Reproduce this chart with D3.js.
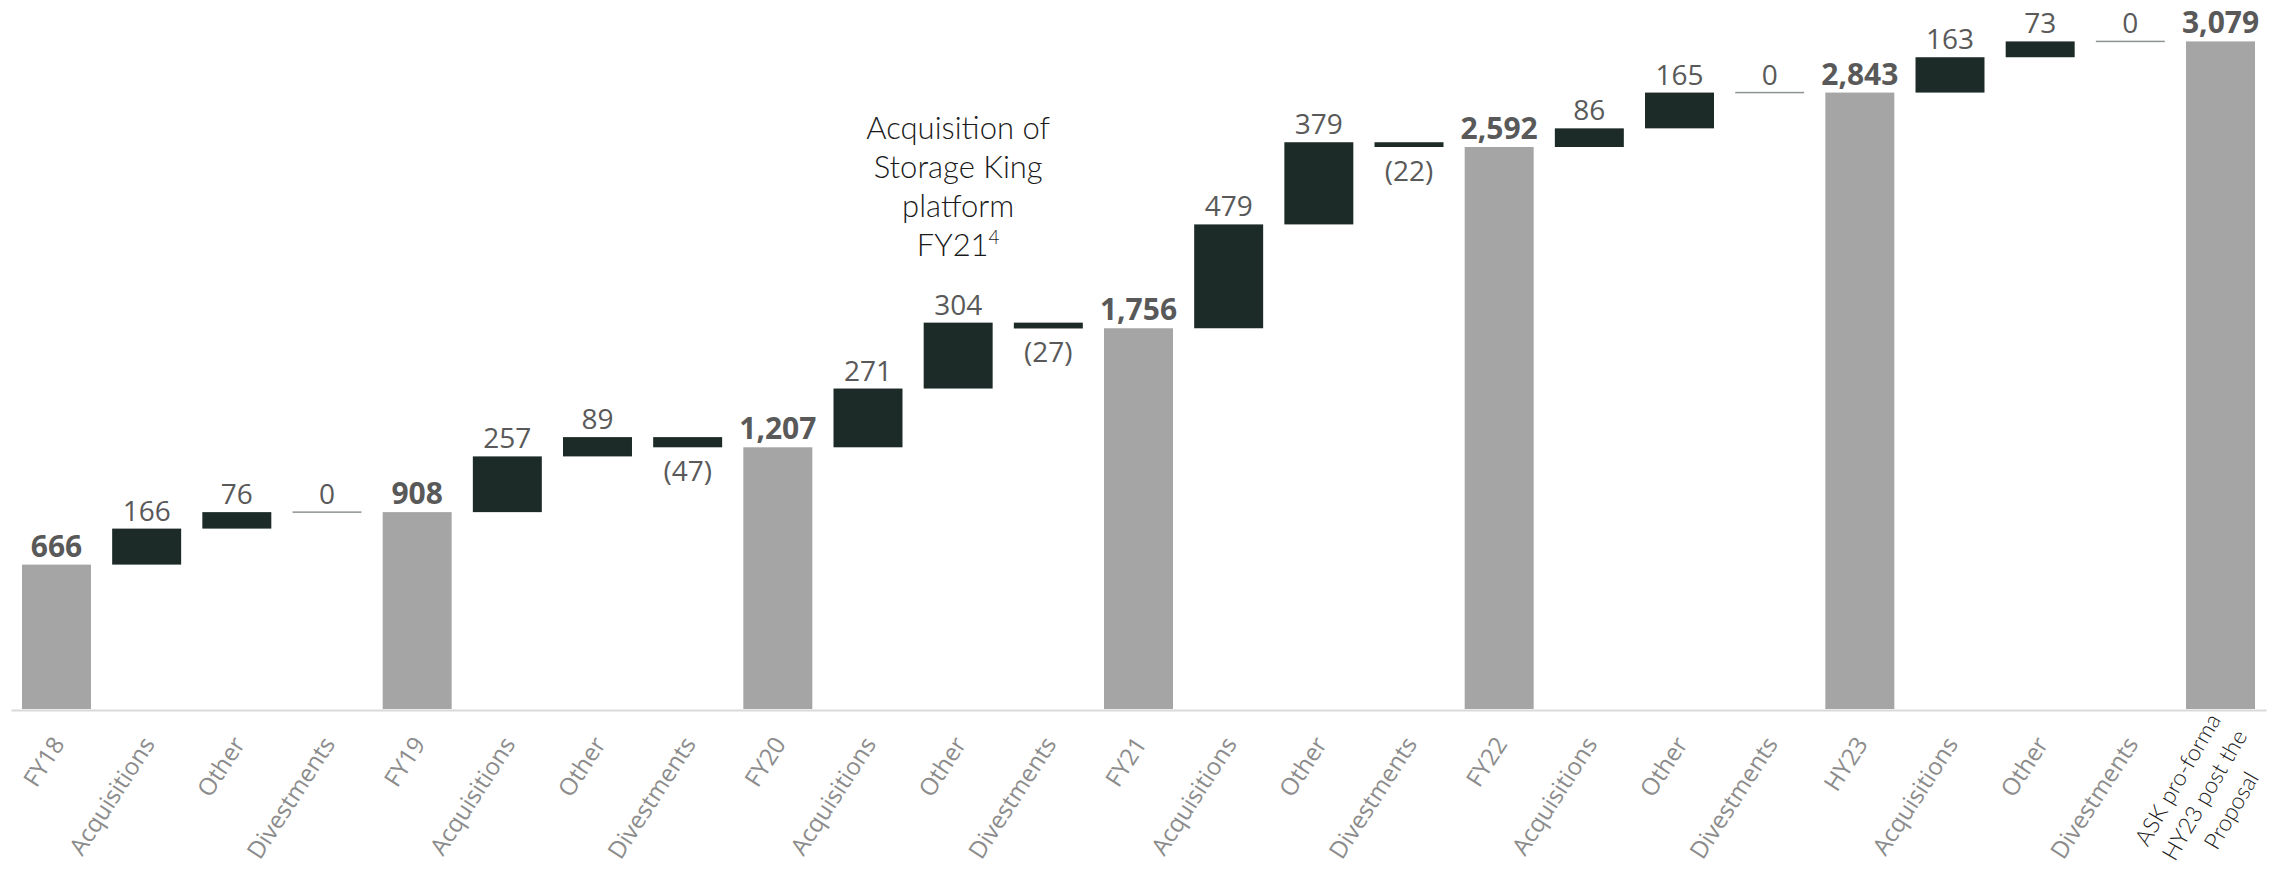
<!DOCTYPE html>
<html>
<head>
<meta charset="utf-8">
<script src="https://cdn.jsdelivr.net/npm/d3@7"></script>
<style>
  html, body { margin: 0; padding: 0; background: #ffffff; }
  svg { display: block; }
</style>
</head>
<body>
<svg id="chart" width="2292" height="870"></svg>
<script>
// ---------- data ----------
const categories = [
  "FY18", "Acquisitions", "Other", "Divestments",
  "FY19", "Acquisitions", "Other", "Divestments",
  "FY20", "Acquisitions", "Other", "Divestments",
  "FY21", "Acquisitions", "Other", "Divestments",
  "FY22", "Acquisitions", "Other", "Divestments",
  "HY23", "Acquisitions", "Other", "Divestments",
  "ASK pro-forma HY23 post the Proposal"
];
const values = [
  666, 166, 76, 0,
  908, 257, 89, -47,
  1207, 271, 304, -27,
  1756, 479, 379, -22,
  2592, 86, 165, 0,
  2843, 163, 73, 0,
  3079
];
const barTypes = [
  "total", "delta", "delta", "delta",
  "total", "delta", "delta", "delta",
  "total", "delta", "delta", "delta",
  "total", "delta", "delta", "delta",
  "total", "delta", "delta", "delta",
  "total", "delta", "delta", "delta",
  "total"
];
const finalLabelLines = ["ASK pro-forma", "HY23 post the", "Proposal"];
const annotationLines = ["Acquisition of", "Storage King", "platform", "FY21"];
const annotationSup = "4";
const annotationIndex = 10;

// ---------- build waterfall segments ----------
let running = 0;
const bars = values.map((v, i) => {
  let start, end;
  if (barTypes[i] === "total") { start = 0; end = v; running = v; }
  else { start = running; end = running + v; running = end; }
  return { i, v, type: barTypes[i], start, end };
});

// ---------- scales ----------
const svg = d3.select("#chart");
const axisY = 710;
const x = d3.scaleBand()
  .domain(d3.range(categories.length))
  .range([11, 2266])
  .paddingInner(0.235)
  .paddingOuter(0.122);
const y = d3.scaleLinear().domain([0, 3270]).range([709, 0]);
const cx = i => x(i) + x.bandwidth() / 2;

const COLOR_TOTAL = "#a4a5a4";
const COLOR_DELTA = "#1c2b27";
const COLOR_ZERO = "#8e9592";
const COLOR_VAL = "#595959";

// ---------- bars ----------
const gBars = svg.append("g");
gBars.selectAll("rect.bar")
  .data(bars.filter(d => d.v !== 0))
  .join("rect")
  .attr("class", "bar")
  .attr("x", d => x(d.i))
  .attr("width", x.bandwidth())
  .attr("y", d => y(Math.max(d.start, d.end)))
  .attr("height", d => Math.abs(y(d.start) - y(d.end)))
  .attr("fill", d => d.type === "total" ? COLOR_TOTAL : COLOR_DELTA);

// zero-change markers
gBars.selectAll("rect.zero")
  .data(bars.filter(d => d.v === 0))
  .join("rect")
  .attr("class", "zero")
  .attr("x", d => x(d.i))
  .attr("width", x.bandwidth())
  .attr("y", d => y(d.end) - 0.75)
  .attr("height", 1.5)
  .attr("fill", COLOR_ZERO);

// ---------- axis ----------
const axis = d3.axisBottom(x).tickSize(0).tickSizeOuter(0)
  .tickFormat(i => categories[i]);
const gAxis = svg.append("g")
  .attr("transform", `translate(0,${axisY})`)
  .call(axis);
gAxis.select(".domain").attr("stroke", "#d9d9d9").attr("stroke-width", 2);
gAxis.selectAll(".tick text")
  .attr("x", 0).attr("y", 0).attr("dy", 0)
  .attr("text-anchor", "end")
  .attr("transform", "translate(9,34) rotate(-57)")
  .attr("fill", "#8c8c8c")
  .style("font-family", "'Open Sans', sans-serif")
  .style("font-size", "24px");

// final category: multi-line thin label
const lastTick = gAxis.selectAll(".tick").filter(i => i === categories.length - 1);
const lastText = lastTick.select("text")
  .text(null)
  .attr("text-anchor", "middle")
  .attr("transform", "translate(-16,85) rotate(-60)")
  .attr("fill", "#1a1a1a")
  .style("font-family", "Lato, sans-serif")
  .style("font-weight", "300")
  .style("font-size", "23px");
lastText.selectAll("tspan")
  .data(finalLabelLines)
  .join("tspan")
  .attr("x", 0)
  .attr("y", (d, k) => (k - 1) * 31 + 8)
  .text(d => d);

// ---------- value labels ----------
const fmt = d3.format(",");
const labelText = d => d.v < 0 ? `(${fmt(-d.v)})` : fmt(d.v);
svg.append("g").selectAll("text")
  .data(bars)
  .join("text")
  .attr("x", d => cx(d.i))
  .attr("y", d => d.v < 0 ? y(d.end) + 34 : y(Math.max(d.start, d.end)) - 8)
  .attr("text-anchor", "middle")
  .attr("fill", COLOR_VAL)
  .style("font-family", "'Open Sans', sans-serif")
  .style("font-size", d => d.type === "total" ? "30px" : "28px")
  .style("font-weight", d => d.type === "total" ? "700" : "400")
  .text(labelText);

// ---------- annotation ----------
const ann = svg.append("text")
  .attr("text-anchor", "middle")
  .attr("fill", "#1a1a1a")
  .style("font-family", "Lato, sans-serif")
  .style("font-weight", "300")
  .style("font-size", "31px");
annotationLines.forEach((line, k) => {
  ann.append("tspan")
    .attr("x", cx(annotationIndex))
    .attr("y", 139 + k * 39)
    .text(line);
  if (k === annotationLines.length - 1) {
    ann.append("tspan")
      .attr("dy", -12)
      .style("font-size", "19px")
      .text(annotationSup);
  }
});
</script>
</body>
</html>
